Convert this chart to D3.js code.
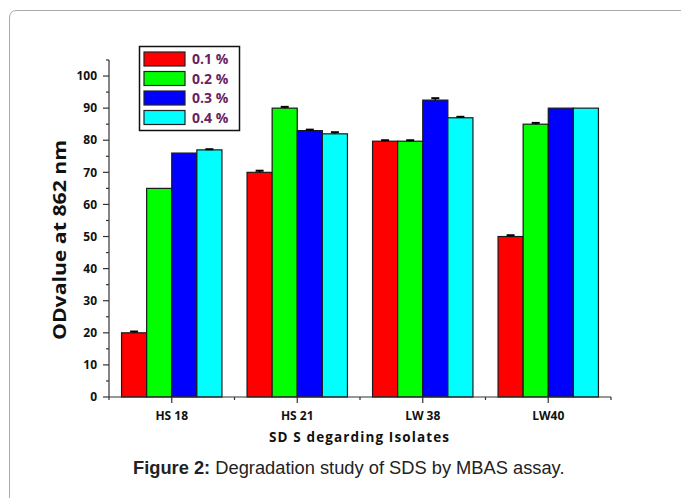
<!DOCTYPE html>
<html>
<head>
<meta charset="utf-8">
<script src="https://cdn.jsdelivr.net/npm/d3@7"></script>
<style>
  html, body { margin: 0; padding: 0; background: #fff; }
  svg { display: block; }
</style>
</head>
<body>
<svg id="chart" width="681" height="498"></svg>
<script>
const categories = ["HS 18", "HS 21", "LW 38", "LW40"];
const seriesNames = ["0.1 %", "0.2 %", "0.3 %", "0.4 %"];
const seriesColors = ["#ff0000", "#00ff00", "#0000ff", "#00ffff"];
const values01 = [20, 70, 79.7, 50];
const values02 = [65, 90, 79.7, 85];
const values03 = [76, 83, 92.5, 90];
const values04 = [77, 82, 87, 90];
const errors01 = [0.4, 0.5, 0.3, 0.4];
const errors02 = [0, 0.4, 0.3, 0.4];
const errors03 = [0, 0.3, 0.6, 0];
const errors04 = [0.2, 0.5, 0.3, 0];
const yTicks = [0, 10, 20, 30, 40, 50, 60, 70, 80, 90, 100];

const seriesValues = [values01, values02, values03, values04];
const seriesErrors = [errors01, errors02, errors03, errors04];

const svg = d3.select("#chart");

// frame
svg.append("path")
  .attr("d", "M9.5,498 L9.5,18 Q9.5,10.5 17,10.5 L681,10.5")
  .attr("fill", "none").attr("stroke", "#aaa").attr("stroke-width", 1);

const x0 = 109, x1 = 611, yBase = 397;
const y = d3.scaleLinear().domain([0, 105]).range([yBase, 60]);
const x = d3.scaleBand().domain(categories).range([x0, x1]).paddingInner(0.2).paddingOuter(0.1);
const xs = d3.scaleBand().domain(seriesNames).range([0, x.bandwidth()]);

const xc = d3.scaleBand().domain(categories).range([x0, x1]);

// bars
seriesNames.forEach((s, si) => {
  const g = svg.append("g");
  categories.forEach((c, ci) => {
    const v = seriesValues[si][ci];
    const bx = x(c) + xs(s);
    g.append("rect")
      .attr("x", bx).attr("y", y(v))
      .attr("width", xs.bandwidth()).attr("height", y(0) - y(v))
      .attr("fill", seriesColors[si])
      .attr("stroke", "#1a1a1a").attr("stroke-width", 1.2);
    const e = seriesErrors[si][ci];
    if (e > 0) {
      const cx = bx + xs.bandwidth() / 2;
      g.append("line").attr("x1", cx).attr("x2", cx)
        .attr("y1", y(v)).attr("y2", y(v + e))
        .attr("stroke", "#000").attr("stroke-width", 1.5);
      g.append("line").attr("x1", cx - 4).attr("x2", cx + 4)
        .attr("y1", y(v + e)).attr("y2", y(v + e))
        .attr("stroke", "#000").attr("stroke-width", 2);
    }
  });
});

// y axis
const yAxisG = svg.append("g").attr("transform", `translate(${x0},0)`);
yAxisG.append("line").attr("x1", 0).attr("x2", 0).attr("y1", y(105)).attr("y2", y(0))
  .attr("stroke", "#333").attr("stroke-width", 1.2);
d3.range(5, 106, 10).forEach(t => {
  yAxisG.append("line").attr("x1", -3).attr("x2", 0).attr("y1", y(t)).attr("y2", y(t))
    .attr("stroke", "#333").attr("stroke-width", 1.2);
});
yTicks.forEach(t => {
  yAxisG.append("line").attr("x1", -6).attr("x2", 0).attr("y1", y(t)).attr("y2", y(t))
    .attr("stroke", "#333").attr("stroke-width", 1.2);
  yAxisG.append("text").attr("x", -12).attr("y", y(t)).attr("dy", "0.35em")
    .attr("text-anchor", "end")
    .attr("font-family", "'Open Sans', sans-serif").attr("font-weight", "bold")
    .attr("font-size", 12).attr("fill", "#111").text(t);
});

// x axis
const xAxisG = svg.append("g").attr("transform", `translate(0,${yBase})`);
xAxisG.append("line").attr("x1", x0).attr("x2", x1).attr("y1", 0).attr("y2", 0)
  .attr("stroke", "#333").attr("stroke-width", 1.2);
categories.forEach(c => {
  const cx = xc(c) + xc.bandwidth() / 2;
  xAxisG.append("line").attr("x1", cx).attr("x2", cx).attr("y1", 0).attr("y2", 6)
    .attr("stroke", "#333").attr("stroke-width", 1.2);
  xAxisG.append("line").attr("x1", xc(c)).attr("x2", xc(c)).attr("y1", 0).attr("y2", 3)
    .attr("stroke", "#333").attr("stroke-width", 1.2);
  xAxisG.append("text").attr("x", cx).attr("y", 23)
    .attr("text-anchor", "middle")
    .attr("font-family", "'Open Sans', sans-serif").attr("font-weight", "bold")
    .attr("font-size", 12).attr("fill", "#111").text(c);
});
xAxisG.append("line").attr("x1", x1).attr("x2", x1).attr("y1", 0).attr("y2", 3)
  .attr("stroke", "#333").attr("stroke-width", 1.2);

// axis titles
svg.append("text")
  .attr("transform", `translate(66,240) rotate(-90)`)
  .attr("text-anchor", "middle")
  .attr("font-family", "'Open Sans', sans-serif").attr("font-weight", "bold")
  .attr("font-size", 18).attr("fill", "#111")
  .attr("textLength", 200).attr("lengthAdjust", "spacingAndGlyphs")
  .text("ODvalue at 862 nm");
svg.append("text")
  .attr("x", 359).attr("y", 442)
  .attr("text-anchor", "middle")
  .attr("font-family", "'Open Sans', sans-serif").attr("font-weight", "bold")
  .attr("font-size", 13.5).attr("fill", "#111")
  .attr("textLength", 180).attr("lengthAdjust", "spacing")
  .text("SD S  degarding  Isolates");

// legend
const lg = svg.append("g");
lg.append("rect").attr("x", 139.5).attr("y", 46.5).attr("width", 100).attr("height", 84)
  .attr("fill", "#fff").attr("stroke", "#111").attr("stroke-width", 1.5);
seriesNames.forEach((s, i) => {
  const cy = 59 + i * 19.5;
  lg.append("rect").attr("x", 144).attr("y", cy - 7).attr("width", 41).attr("height", 14)
    .attr("fill", seriesColors[i]).attr("stroke", "#222").attr("stroke-width", 1.2);
  lg.append("text").attr("x", 192).attr("y", cy).attr("dy", "0.36em")
    .attr("font-family", "'Open Sans', sans-serif").attr("font-weight", "bold")
    .attr("font-size", 14).attr("fill", "#6b1f5e").text(s);
});

// caption
const cap = svg.append("text").attr("x", 133).attr("y", 474)
  .attr("font-family", "'Liberation Sans', Arial, sans-serif")
  .attr("font-size", 18.3).attr("fill", "#222");
cap.append("tspan").attr("font-weight", "bold").text("Figure 2:");
cap.append("tspan").text(" Degradation study of SDS by MBAS assay.");
</script>
</body>
</html>
